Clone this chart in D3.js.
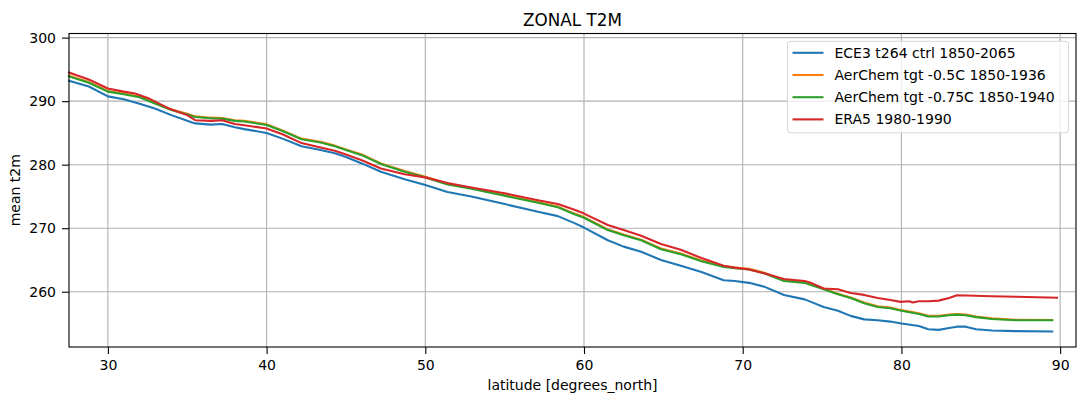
<!DOCTYPE html>
<html>
<head>
<meta charset="utf-8">
<script src="https://cdn.jsdelivr.net/npm/d3@7"></script>
<style>
  body { margin: 0; background: #fff; }
  text { font-family: "DejaVu Sans", sans-serif; fill: #000; }
</style>
</head>
<body>
<div id="zonalviz"></div>
<script>
// latitudes of the model grid and of the ERA5 grid
const latModel = [27.55, 28.8, 30, 31, 32, 33, 34, 35, 35.5, 36.5, 37.2, 38, 38.6, 40, 41, 42.2, 43.4, 44.3, 45, 46,
  47.2, 48.7, 50, 51.4, 52.9, 55, 57.1, 58.35, 59.4, 60, 61.5, 62.5, 63.6, 64.85, 66.1, 67.4, 68.8, 69.5, 70.4, 71.35,
  72.6, 73.9, 74.3, 75.1, 76, 76.8, 77.65, 78.5, 79.3, 80, 81.1, 81.7, 82.35, 83, 83.5, 84.05, 84.7, 85.7, 87.2, 89.5];

const ece3Ctrl = [293.2, 292.3, 290.75, 290.3, 289.6, 288.8, 287.8, 286.9, 286.5, 286.3, 286.4, 285.9, 285.6, 285.0, 284.1, 282.9, 282.3, 281.8, 281.2, 280.2,
  278.9, 277.7, 276.8, 275.7, 275.0, 273.8, 272.6, 271.9, 270.8, 270.1, 268.1, 267.1, 266.3, 265.0, 264.1, 263.1, 261.8, 261.7, 261.4, 260.8,
  259.5, 258.8, 258.4, 257.6, 257.0, 256.2, 255.65, 255.5, 255.3, 255.0, 254.6, 254.1, 254.0, 254.3, 254.5, 254.5, 254.1, 253.9, 253.8, 253.75];

const aerChem05 = [294.0, 293.0, 291.6, 291.2, 290.7, 289.7, 288.7, 288.0, 287.6, 287.4, 287.35, 287.0, 286.9, 286.35, 285.4, 284.1, 283.6, 283.0, 282.4, 281.6,
  280.2, 279.0, 278.1, 277.0, 276.3, 275.2, 274.1, 273.4, 272.3, 271.75, 269.8, 269.0, 268.2, 266.8, 266.0, 264.9, 264.0, 263.8, 263.6, 263.0,
  261.8, 261.5, 261.15, 260.5, 259.7, 259.1, 258.3, 257.7, 257.5, 257.1, 256.6, 256.2, 256.2, 256.4, 256.5, 256.4, 256.1, 255.8, 255.6, 255.55];

const aerChem075 = [293.9, 292.9, 291.5, 291.1, 290.6, 289.6, 288.6, 287.9, 287.5, 287.3, 287.25, 286.9, 286.8, 286.25, 285.3, 284.0, 283.5, 282.9, 282.3, 281.5,
  280.1, 278.9, 278.0, 276.9, 276.2, 275.1, 274.0, 273.3, 272.2, 271.65, 269.7, 268.9, 268.1, 266.7, 265.9, 264.8, 263.9, 263.7, 263.5, 262.9,
  261.7, 261.4, 261.05, 260.4, 259.6, 259.0, 258.2, 257.6, 257.4, 257.0, 256.5, 256.1, 256.1, 256.3, 256.4, 256.3, 256.0, 255.7, 255.5, 255.5];

const latEra = [27.55, 28.8, 30, 31, 31.7, 32.6, 33.8, 35, 35.5, 36.5, 37.2, 38, 38.6, 40, 41, 42.2, 43.4, 44.3, 45, 46,
  47.2, 48.7, 50, 51.4, 52.9, 55, 57.1, 58.35, 59.4, 60, 61.5, 62.5, 63.6, 64.85, 66.1, 67.4, 68.8, 69.5, 70.4, 71.35,
  72.6, 73.9, 74.3, 75.1, 76, 76.8, 77.65, 78.5, 79.3, 79.95, 80.5, 80.7, 81.1, 81.7, 82.35, 83.0, 83.5, 84.05, 85.7, 87.2, 89.8];

const era5 = [294.5, 293.4, 292.0, 291.5, 291.2, 290.4, 288.9, 287.8, 287.0, 286.9, 287.0, 286.4, 286.2, 285.7, 284.8, 283.4, 282.7, 282.2, 281.6, 280.7,
  279.4, 278.5, 278.0, 277.1, 276.4, 275.5, 274.4, 273.8, 272.9, 272.3, 270.5, 269.7, 268.8, 267.5, 266.6, 265.3, 264.1, 263.8, 263.5, 262.9,
  262.0, 261.7, 261.4, 260.5, 260.4, 259.8, 259.5, 259.0, 258.7, 258.4, 258.5, 258.3, 258.5, 258.5, 258.6, 259.0, 259.45, 259.4, 259.3, 259.2, 259.05];

const seriesNames = ["ECE3 t264 ctrl 1850-2065", "AerChem tgt -0.5C 1850-1936", "AerChem tgt -0.75C 1850-1940", "ERA5 1980-1990"];
const seriesColors = ["#1f77b4", "#ff7f0e", "#2ca02c", "#d62728"];
const xTicks = [30, 40, 50, 60, 70, 80, 90];
const yTicks = [260, 270, 280, 290, 300];

const series = [
  {name: seriesNames[0], color: seriesColors[0], lat: latModel, val: ece3Ctrl},
  {name: seriesNames[1], color: seriesColors[1], lat: latModel, val: aerChem05},
  {name: seriesNames[2], color: seriesColors[2], lat: latModel, val: aerChem075},
  {name: seriesNames[3], color: seriesColors[3], lat: latEra, val: era5}
];

// dimensions
const W = 1077, H = 397;
const margin = {top: 33.5, right: 1, bottom: 50, left: 69},
    width = W - margin.left - margin.right,
    height = H - margin.top - margin.bottom;

const svg = d3.select("#zonalviz")
    .append("svg")
    .attr("width", W)
    .attr("height", H)
    .append("g")
    .attr("transform", "translate(" + margin.left + "," + margin.top + ")");

const x = d3.scaleLinear().domain([27.55, 91.0]).range([0, width]);
const y = d3.scaleLinear().domain([251.3, 300.65]).range([height, 0]);

// grid
svg.append("g").selectAll("line").data(xTicks).enter().append("line")
    .attr("x1", d => x(d)).attr("x2", d => x(d))
    .attr("y1", 0).attr("y2", height)
    .attr("stroke", "#b0b0b0").attr("stroke-width", 1.1);
svg.append("g").selectAll("line").data(yTicks).enter().append("line")
    .attr("x1", 0).attr("x2", width)
    .attr("y1", d => y(d)).attr("y2", d => y(d))
    .attr("stroke", "#b0b0b0").attr("stroke-width", 1.1);

// axes
const xAxis = svg.append("g")
    .attr("transform", "translate(0," + height + ")")
    .call(d3.axisBottom(x).tickValues(xTicks).tickSize(7).tickPadding(6).tickFormat(d3.format("d")));
const yAxis = svg.append("g")
    .call(d3.axisLeft(y).tickValues(yTicks).tickSize(7).tickPadding(6).tickFormat(d3.format("d")));
[xAxis, yAxis].forEach(a => {
  a.select(".domain").remove();
  a.selectAll("line").attr("stroke", "#000").attr("stroke-width", 1.1);
  a.selectAll("text").attr("font-size", 14).attr("font-family", "DejaVu Sans").attr("fill", "#000");
});

// lines
const line = d3.line()
    .x(d => x(d[0]))
    .y(d => y(d[1]));

svg.selectAll(".series")
    .data(series)
    .enter()
    .append("path")
    .attr("class", "series")
    .attr("fill", "none")
    .attr("stroke", d => d.color)
    .attr("stroke-width", 2.1)
    .attr("stroke-linejoin", "round")
    .attr("stroke-linecap", "square")
    .attr("d", d => line(d.lat.map((l, i) => [l, d.val[i]])));

// frame
svg.append("rect")
    .attr("x", 0).attr("y", 0)
    .attr("width", width).attr("height", height)
    .attr("fill", "none").attr("stroke", "#000").attr("stroke-width", 1.1);

// title and labels
svg.append("text")
    .attr("x", width / 2).attr("y", -8)
    .attr("text-anchor", "middle")
    .attr("font-size", 16.8)
    .text("ZONAL T2M");
svg.append("text")
    .attr("x", width / 2).attr("y", height + 43)
    .attr("text-anchor", "middle")
    .attr("font-size", 14)
    .text("latitude [degrees_north]");
svg.append("text")
    .attr("transform", "rotate(-90)")
    .attr("x", -height / 2).attr("y", -margin.left + 20)
    .attr("text-anchor", "middle")
    .attr("font-size", 14)
    .text("mean t2m");

// legend
const lg = svg.append("g").attr("transform", "translate(" + (787.5 - margin.left) + "," + (41.3 - margin.top) + ")");
lg.append("rect")
    .attr("width", 281).attr("height", 91.5)
    .attr("rx", 3).attr("ry", 3)
    .attr("fill", "#fff").attr("fill-opacity", 0.8)
    .attr("stroke", "#d6d6d6").attr("stroke-width", 1);
const item = lg.selectAll(".item").data(series).enter().append("g")
    .attr("transform", (d, i) => "translate(0," + (11.5 + i * 22.2) + ")");
item.append("line")
    .attr("x1", 5).attr("x2", 36)
    .attr("stroke", d => d.color).attr("stroke-width", 2.1);
item.append("text")
    .attr("x", 47).attr("dy", "0.36em")
    .attr("font-size", 14)
    .text(d => d.name);
</script>
</body>
</html>
